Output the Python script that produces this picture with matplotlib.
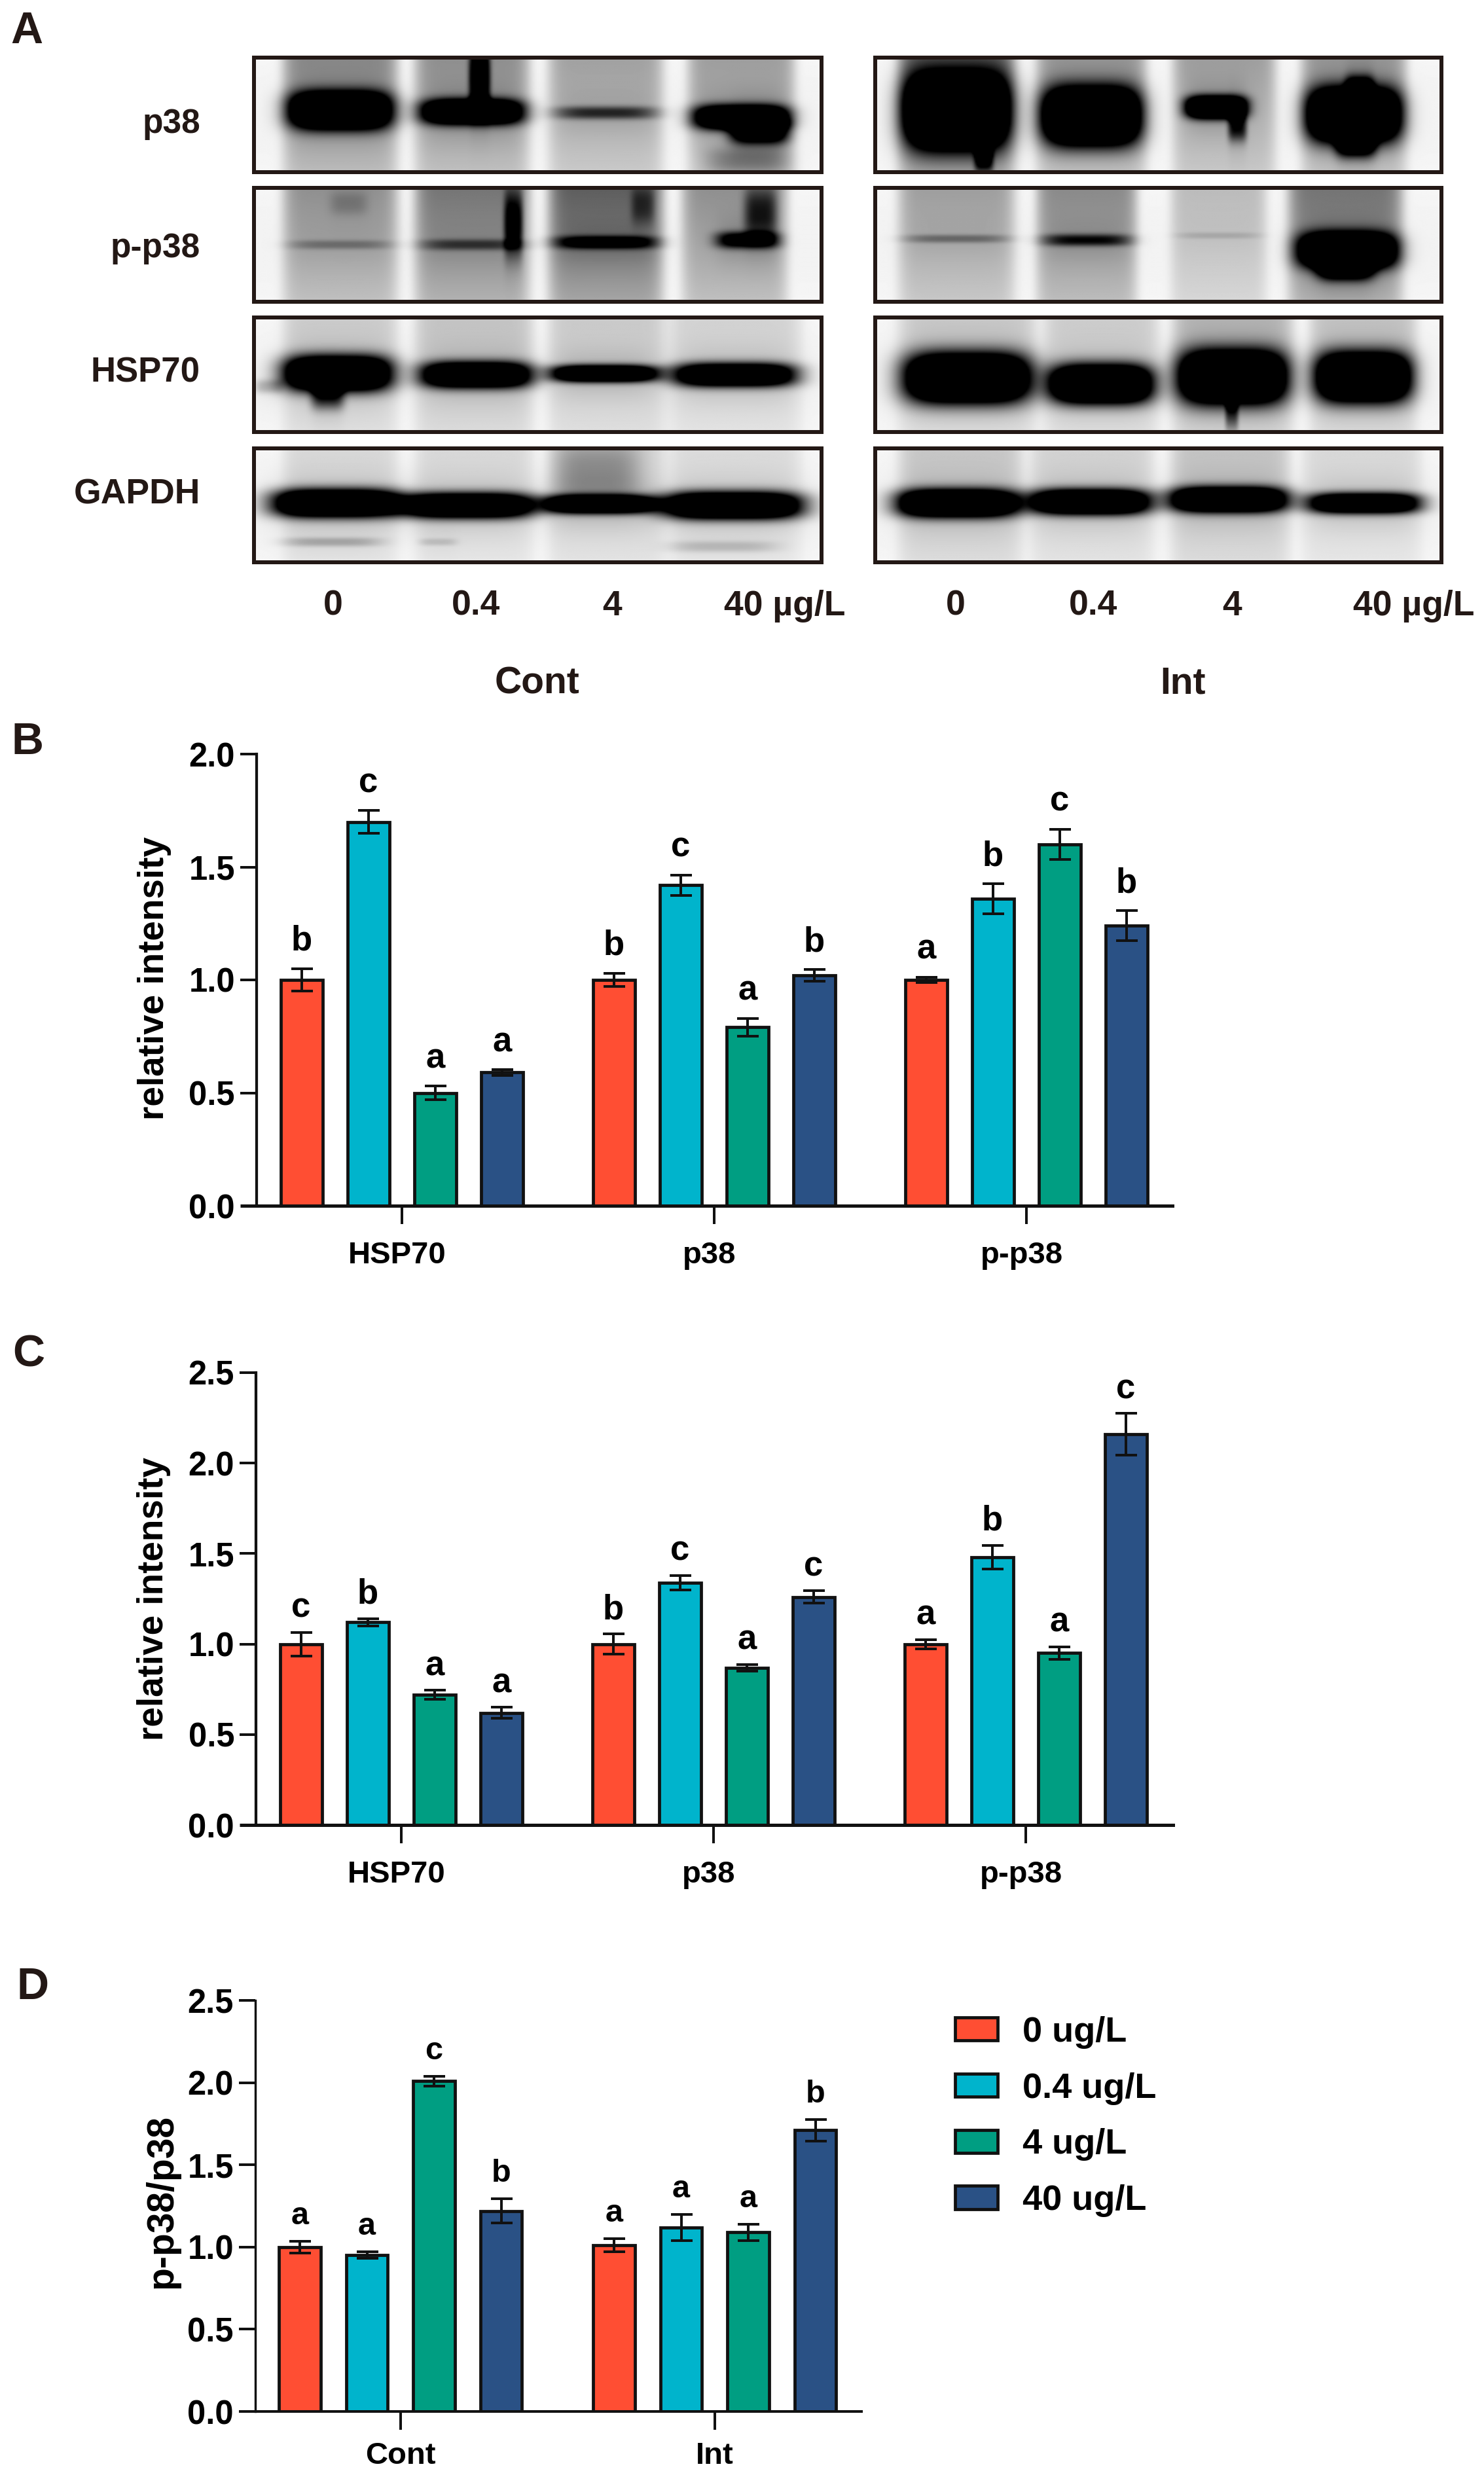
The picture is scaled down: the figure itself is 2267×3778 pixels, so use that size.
import numpy as np
import matplotlib
matplotlib.use("Agg")
import matplotlib.pyplot as plt
from matplotlib.transforms import ScaledTranslation

plt.rcParams['font.family'] = ['Liberation Sans', 'DejaVu Sans']
plt.rcParams['font.weight'] = 'bold'

W, H = 2267, 3778
PT = 0.72  # points per output pixel at dpi 100
INK = '#231815'

# ---- data ----
DOSES = ['0 ug/L', '0.4 ug/L', '4 ug/L', '40 ug/L']
COLORS = ['#FF4E33', '#00B4CC', '#009E82', '#2A5185']
GROUPS_BC = ['HSP70', 'p38', 'p-p38']
GROUPS_D = ['Cont', 'Int']

B_0 = [1.00, 1.00, 1.00]
B_04 = [1.70, 1.42, 1.36]
B_4 = [0.50, 0.79, 1.60]
B_40 = [0.59, 1.02, 1.24]
B_0_ERR = [0.05, 0.03, 0.012]
B_04_ERR = [0.05, 0.045, 0.066]
B_4_ERR = [0.03, 0.04, 0.067]
B_40_ERR = [0.012, 0.025, 0.067]
B_0_SIG = ['b', 'b', 'a']
B_04_SIG = ['c', 'c', 'b']
B_4_SIG = ['a', 'a', 'c']
B_40_SIG = ['a', 'b', 'b']

C_0 = [1.00, 1.00, 1.00]
C_04 = [1.12, 1.34, 1.48]
C_4 = [0.72, 0.87, 0.95]
C_40 = [0.62, 1.26, 2.16]
C_0_ERR = [0.065, 0.055, 0.025]
C_04_ERR = [0.02, 0.04, 0.065]
C_4_ERR = [0.025, 0.018, 0.035]
C_40_ERR = [0.03, 0.035, 0.115]
C_0_SIG = ['c', 'b', 'a']
C_04_SIG = ['b', 'c', 'b']
C_4_SIG = ['a', 'a', 'a']
C_40_SIG = ['a', 'c', 'c']

D_0 = [1.00, 1.01]
D_04 = [0.95, 1.12]
D_4 = [2.01, 1.09]
D_40 = [1.22, 1.71]
D_0_ERR = [0.035, 0.04]
D_04_ERR = [0.02, 0.08]
D_4_ERR = [0.03, 0.05]
D_40_ERR = [0.075, 0.065]
D_0_SIG = ['a', 'a']
D_04_SIG = ['a', 'a']
D_4_SIG = ['c', 'a']
D_40_SIG = ['b', 'b']

# ---- western-blot panels: lanes (x0, x1, shade), bands (x0, x1, yc, half height, density)
P38_C_LANES = [(36, 146, .37), (176, 286, .35), (318, 428, .29), (466, 568, .3)]
P38_C_BANDS = [(36, 146, 115, 40, 1.7), (176, 286, 118, 27, 1.5), (228, 250, 40, 70, .8),
               (318, 428, 120, 14, .5), (466, 568, 130, 26, 1.5), (505, 568, 160, 28, 1.0),
               (480, 568, 225, 30, .25)]
P38_I_LANES = [(30, 142, .47), (177, 282, .32), (322, 420, .3), (459, 559, .32)]
P38_I_BANDS = [(30, 142, 118, 80, 1.9), (105, 125, 222, 28, .6), (177, 282, 128, 62, 1.9),
               (330, 395, 108, 24, 1.7), (375, 395, 150, 32, .6), (459, 559, 125, 58, 1.9),
               (500, 530, 70, 30, .7), (490, 532, 185, 32, .9)]
PP38_C_LANES = [(36, 146, .35), (176, 286, .44), (318, 428, .52), (460, 560, .35)]
PP38_C_BANDS = [(36, 146, 125, 10, .2), (80, 120, 35, 25, .12), (176, 286, 125, 12, .35),
                (265, 285, 80, 70, .6), (318, 428, 120, 14, .7), (400, 425, 40, 40, .25),
                (490, 558, 115, 18, .8), (520, 555, 55, 55, .45)]
PP38_I_LANES = [(30, 142, .3), (177, 272, .37), (320, 410, .2), (445, 555, .44)]
PP38_I_BANDS = [(30, 142, 112, 9, .25), (177, 272, 115, 13, .55), (320, 410, 105, 7, .1),
                (450, 555, 138, 38, 1.7), (470, 530, 175, 28, .9)]
HSP_C_LANES = [(36, 146, .14), (176, 290, .17), (318, 430, .15), (445, 575, .12)]
HSP_C_BANDS = [(30, 146, 122, 38, 1.8), (60, 95, 170, 30, .6), (176, 295, 125, 28, 1.6),
               (315, 428, 122, 18, 1.6), (445, 575, 125, 25, 1.6), (0, 30, 150, 15, .2)]
HSP_I_LANES = [(30, 165, .15), (185, 295, .14), (322, 438, .22), (468, 570, .17)]
HSP_I_BANDS = [(30, 165, 132, 54, 1.9), (185, 295, 145, 42, 1.9), (322, 438, 130, 58, 1.9),
               (372, 386, 205, 40, .45), (468, 570, 130, 54, 1.9)]
GAP_C_LANES = [(36, 146, .1), (176, 290, .1), (318, 430, .12), (445, 575, .09)]
GAP_C_BANDS = [(18, 155, 120, 30, 1.8), (155, 297, 125, 27, 1.7), (307, 425, 122, 20, 1.6),
               (433, 582, 125, 29, 1.8), (30, 135, 205, 10, .2), (175, 215, 205, 8, .12),
               (440, 555, 215, 12, .15), (318, 410, 50, 70, .25)]
GAP_I_LANES = [(30, 150, .16), (170, 290, .12), (320, 435, .17), (460, 575, .1)]
GAP_I_BANDS = [(22, 152, 120, 30, 1.8), (165, 292, 117, 27, 1.8), (313, 438, 112, 27, 1.8),
               (460, 580, 120, 22, 1.6)]

BLOT_ROWS = [('p38', P38_C_LANES, P38_C_BANDS, P38_I_LANES, P38_I_BANDS),
             ('p-p38', PP38_C_LANES, PP38_C_BANDS, PP38_I_LANES, PP38_I_BANDS),
             ('HSP70', HSP_C_LANES, HSP_C_BANDS, HSP_I_LANES, HSP_I_BANDS),
             ('GAPDH', GAP_C_LANES, GAP_C_BANDS, GAP_I_LANES, GAP_I_BANDS)]
DOSE_TICKS = ['0', '0.4', '4', '40 µg/L']
TREATMENTS = ['Cont', 'Int']

fig = plt.figure(figsize=(W / 100, H / 100), dpi=100, facecolor='white')


def ax_px(l, t, r, b):
    return fig.add_axes([l / W, 1 - b / H, (r - l) / W, (b - t) / H])


def txt(x, y, s, **kw):
    return fig.text(x / W, 1 - y / H, s, **kw)


def blot_image(lanes, bands):
    xs, ys = np.meshgrid(np.arange(0, 603, 1.5), np.arange(0, 250, 1.0))
    dens = np.full(xs.shape, 0.02) + 0.03 * np.exp(-np.abs((ys - 125) / 160) ** 2)
    for x0, x1, shade in lanes:
        xc, hw = (x0 + x1) / 2, (x1 - x0) / 2 + 6
        dens += shade * (1.15 - 0.55 * ys / 250) * np.exp(-np.abs((xs - xc) / hw) ** 10)
    for x0, x1, yc, hh, d in bands:
        xc, hw = (x0 + x1) / 2, (x1 - x0) / 2
        xprof = np.exp(-np.abs((xs - xc) / hw) ** 4)
        dens += d * xprof * np.exp(-np.abs((ys - yc) / hh) ** 2.6)
        dens += 0.12 * min(d, 1.0) * xprof * np.exp(-np.abs((ys - yc) / (hh + 35)) ** 2)
    return np.clip(1 - dens, 0, 1)


BOX_X = [(388, 1255), (1337, 2202)]
BOX_Y = [(88, 263), (286.5, 461), (485, 660), (685, 859)]
ROW_BASE = [203, 393, 584, 769]
ROW_FS = [37, 37, 38, 38.5]
for (name, lc, bc, li, bi), (t, b), base, rfs in zip(BLOT_ROWS, BOX_Y, ROW_BASE, ROW_FS):
    for (l, r), lanes, bands in zip(BOX_X, (lc, li), (bc, bi)):
        ax = ax_px(l, t, r, b)
        ax.imshow(blot_image(lanes, bands), cmap='gray', vmin=0, vmax=1, aspect='auto',
                  interpolation='bilinear')
        ax.set_xticks([]); ax.set_yticks([])
        for s in ax.spines.values():
            s.set_linewidth(6 * PT); s.set_edgecolor(INK)
    txt(306, base, name, ha='right', va='baseline', fontsize=rfs, color=INK)

for x, s in zip([509, 727, 935, 1199], DOSE_TICKS):
    txt(x, 940, s, ha='center', va='baseline', fontsize=38.5, color=INK)
for x, s in zip([1460, 1670, 1882, 2160], DOSE_TICKS):
    txt(x, 940, s, ha='center', va='baseline', fontsize=38.5, color=INK)
for x, s in zip([820, 1807], TREATMENTS):
    txt(x, 1059, s, ha='center', va='baseline', fontsize=41, color=INK)


def bar_panel(box, y_max, series, errs, sigs, groups, x0, pitch, group_step, ylabel, ylabel_xy,
              ylabel_fs, sig_off, sig_fs, axis_lw, label_shift, label_pad):
    l, t, r, b = box
    ax = ax_px(l, t, r, b)
    ax.patch.set_alpha(0)
    xg = np.arange(len(groups)) * group_step
    for j, (vals, err, sig, col, lab) in enumerate(zip(series, errs, sigs, COLORS, DOSES)):
        ax.bar(xg + j, vals, width=0.62, color=col, edgecolor='#111111', linewidth=4.8 * PT,
               label=lab, zorder=2)
        ax.errorbar(xg + j, vals, yerr=err, fmt='none', ecolor='#111111', elinewidth=4 * PT,
                    capsize=16.5 * PT, capthick=4 * PT, zorder=3)
        for xi, v, e, s in zip(xg + j, vals, err, sig):
            ax.annotate(s, (xi, v + e), xytext=(0, sig_off * PT), textcoords='offset points',
                        ha='center', va='baseline', fontsize=sig_fs, color='black')
    ax.set_xlim((l - x0) / pitch, (r - x0) / pitch)
    ax.set_ylim(0, y_max)
    ax.set_yticks(np.arange(0, y_max + 0.01, 0.5))
    ax.set_yticklabels([f'{v:.1f}' for v in np.arange(0, y_max + 0.01, 0.5)], fontsize=36.5)
    ax.set_xticks(xg + 1.5)
    ax.set_xticklabels(groups, fontsize=34)
    for sp in ('top', 'right'):
        ax.spines[sp].set_visible(False)
    ax.spines['left'].set_linewidth(axis_lw * 0.85 * PT)
    ax.spines['bottom'].set_linewidth(axis_lw * PT)
    ax.spines['left'].set_color('#111111'); ax.spines['bottom'].set_color('#111111')
    ax.tick_params(axis='y', length=25 * PT, width=4 * PT, pad=8 * PT, color='#111111')
    ax.tick_params(axis='x', length=28 * PT, width=4 * PT, pad=label_pad * PT, color='#111111')
    ax.yaxis.get_major_ticks()[0].tick1line.set_markeredgewidth(axis_lw * PT)
    if label_shift:
        shift = ScaledTranslation(label_shift * PT / 72, 0, fig.dpi_scale_trans)
        for lb in ax.get_xticklabels():
            lb.set_transform(lb.get_transform() + shift)
    txt(ylabel_xy[0], ylabel_xy[1], ylabel, rotation=90, ha='center', va='center',
        fontsize=ylabel_fs, color='black')
    return ax


bar_panel((392, 1152, 1791, 1842), 2.0, [B_0, B_04, B_4, B_40],
          [B_0_ERR, B_04_ERR, B_4_ERR, B_40_ERR], [B_0_SIG, B_04_SIG, B_4_SIG, B_40_SIG],
          GROUPS_BC, 461, 102, 477 / 102, 'relative intensity', (236, 1495), 39.5, 28, 38, 5, -7, 26)
bar_panel((391, 2097, 1792, 2788), 2.5, [C_0, C_04, C_4, C_40],
          [C_0_ERR, C_04_ERR, C_4_ERR, C_40_ERR], [C_0_SIG, C_04_SIG, C_4_SIG, C_40_SIG],
          GROUPS_BC, 460, 102, 477 / 102, 'relative intensity', (235, 2443), 39.5, 23, 38, 5, -7, 26)
axd = bar_panel((390, 3056, 1316, 3684), 2.5, [D_0, D_04, D_4, D_40],
                [D_0_ERR, D_04_ERR, D_4_ERR, D_40_ERR], [D_0_SIG, D_04_SIG, D_4_SIG, D_40_SIG],
                GROUPS_D, 458, 102.5, 480 / 102.5, 'p-p38/p38', (247, 3363), 41, 26, 35, 4, 0, 18)

leg = axd.legend(frameon=False, fontsize=39, loc='upper left',
                 bbox_to_anchor=(1448 / W, 1 - 3069 / H), bbox_transform=fig.transFigure,
                 handlelength=1.2, handleheight=0.62, handletextpad=0.7, labelspacing=0.66,
                 borderaxespad=0, borderpad=0.2)

for x, y, s in [(16, 66, 'A'), (17, 1152, 'B'), (19, 2088, 'C'), (25, 3054, 'D')]:
    txt(x, y, s, ha='left', va='baseline', fontsize=49, color=INK)

fig.savefig('out.png', dpi=100, facecolor='white')
